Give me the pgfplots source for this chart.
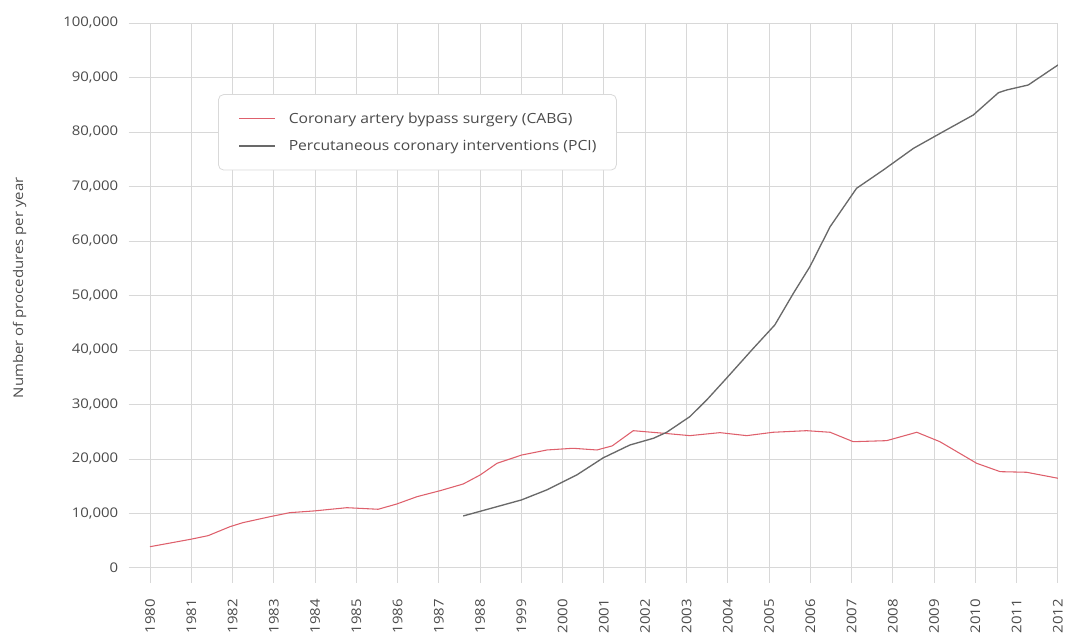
\documentclass[border=0pt]{standalone}
\usepackage{fontspec}
\setmainfont[FakeStretch=1.12]{Open Sans}
\usepackage{pgfplots}
\pgfplotsset{compat=1.18}

\definecolor{cabg}{RGB}{222,96,108}
\definecolor{pci}{RGB}{105,105,105}
\definecolor{gridc}{RGB}{216,216,216}
\definecolor{txt}{RGB}{75,75,75}

\begin{document}
\begin{tikzpicture}
\begin{axis}[
    scale only axis,
    width=697.1pt, height=420pt,
    xmin=-0.52, xmax=22,
    ymin=-2752, ymax=100000,
    xtick={0,...,22},
    xticklabels={1980,1981,1982,1983,1984,1985,1986,1987,1988,1999,2000,2001,2002,2003,2004,2005,2006,2007,2008,2009,2010,2011,2012},
    ytick={0,10000,20000,30000,40000,50000,60000,70000,80000,90000,100000},
    yticklabels={0,{10,000},{20,000},{30,000},{40,000},{50,000},{60,000},{70,000},{80,000},{90,000},{100,000}},
    scaled y ticks=false,
    grid=major,
    major grid style={gridc, line width=0.7pt},
    axis line style={draw=none},
    major tick length=0pt,
    tick label style={font=\fontsize{10}{12}\selectfont, text=txt},
    xticklabel style={rotate=90, anchor=east, inner sep=0pt},
    xticklabel shift=12pt,
    yticklabel style={anchor=east, inner sep=0pt},
    yticklabel shift=7.5pt,
    ylabel={Number of procedures per year},
    ylabel style={at={(axis description cs:-0.1173,0.527)}, anchor=center,
        font=\fontsize{10}{12}\selectfont, text=txt},
    legend cell align=left,
    legend image code/.code={\draw[#1] (0pt,0pt) -- (27pt,0pt);},
    legend style={
        at={(axis description cs:0.0963,0.873)}, anchor=north west,
        draw=black!15, line width=0.6pt, rounded corners=4pt,
        fill=white,
        inner xsep=15pt, inner ysep=13.5pt,
        nodes={inner sep=0pt, text=txt},
        font=\fontsize{10.5}{12}\selectfont,
        column sep=9.75pt, row sep=11pt,
    },
]

% CABG
\addplot[draw=cabg, line width=0.8pt] coordinates {
    (0,3900) (0.99,5270) (1.41,5930) (1.94,7580) (2.25,8310) (2.91,9410)
    (3.39,10150) (3.97,10460) (4.77,11060) (5.53,10770) (5.98,11740)
    (6.47,13080) (7.03,14180) (7.59,15410) (8.0,17060) (8.41,19210)
    (9.01,20730) (9.62,21650) (10.25,21960) (10.83,21650) (11.2,22400)
    (11.71,25190) (12.44,24720) (13.08,24280) (13.81,24830) (14.46,24280)
    (15.10,24900) (15.91,25190) (16.48,24900) (17.04,23170) (17.85,23360)
    (18.58,24900) (19.14,23170) (20.03,19210) (20.60,17670) (21.24,17560)
    (22.0,16460)
};
\addlegendentry{Coronary artery bypass surgery (CABG)}

% PCI
\addplot[draw=pci, line width=1pt] coordinates {
    (7.59,9540) (9.0,12480) (9.61,14310) (10.34,17060) (10.98,20200)
    (11.63,22570) (12.20,23800) (12.52,24900) (13.08,27760) (13.49,30830)
    (13.95,34650) (14.62,40310) (15.14,44590) (15.59,50400) (15.99,55290)
    (16.48,62620) (17.12,69660) (17.77,73030) (18.50,77000) (19.22,80060)
    (19.95,83120) (20.56,87220) (20.76,87710) (21.28,88620) (22.0,92290)
};
\addlegendentry{Percutaneous coronary interventions (PCI)}

\end{axis}
\pgfresetboundingbox
\path (-96.4pt,-39pt) rectangle (702.4pt,437.25pt);
\end{tikzpicture}
\end{document}
